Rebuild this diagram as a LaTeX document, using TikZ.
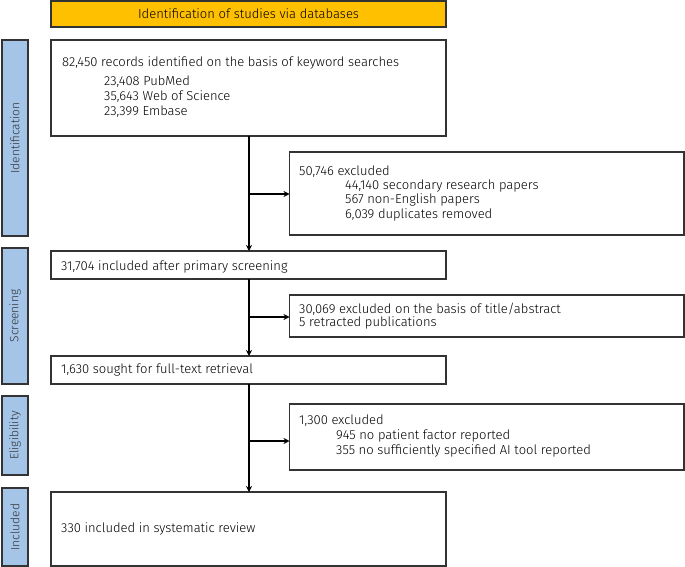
\documentclass[tikz,border=0pt]{standalone}
\usepackage{fontspec}
\setmainfont{Fira Sans}[UprightFont=*-Light]
\usetikzlibrary{arrows.meta}
\definecolor{hdr}{HTML}{FFC000}
\definecolor{side}{HTML}{A4C4E8}
\definecolor{ln}{HTML}{333333}
\begin{document}
\begin{tikzpicture}[x=1pt,y=-1pt,
  box/.style={draw=ln,line width=1.2pt,fill=white},
  sb/.style={draw=ln,line width=1.2pt,fill=side},
  sl/.style={rotate=90,text=ln,font=\fontsize{12}{14}\selectfont},
  t/.style={anchor=west,inner sep=0,font=\fontsize{13}{15}\selectfont},
  arr/.style={line width=1.4pt,-{Stealth[length=6pt,width=6pt]}}]
\useasboundingbox (0,0) rectangle (685,567);
\fill[hdr,draw=ln,line width=1.2pt] (51,1) rectangle (446,27);
\node[t,anchor=center] (hdr) at (248.5,14) {Identification of studies via databases};
% side bars
\draw[sb] (2,40) rectangle (28,236); \node[sl] (s1) at (15,138) {Identification};
\draw[sb] (2,248) rectangle (28,384); \node[sl] (s2) at (15,316) {Screening};
\draw[sb] (2,396) rectangle (28,475); \node[sl] (s3) at (15,435.5) {Eligibility};
\draw[sb] (2,488) rectangle (28,566); \node[sl] (s4) at (15,527) {Included};
% main boxes
\draw[box] (51,40) rectangle (446,136);
\coordinate (b1) at (249,136);
\node[t] (l1) at (62,63) {82,450 records identified on the basis of keyword searches};
\node[t] (l2) at (104,82) {23,408 PubMed};
\node[t] (l3) at (104,97) {35,643 Web of Science};
\node[t] (l4) at (104,112) {23,399 Embase};
\draw[box] (289.5,152) rectangle (684,235);
\node[t] (e1) at (299,172) {50,746 excluded};
\node[t] (e2) at (345,186) {44,140 secondary research papers};
\node[t] (e3) at (345,200) {567 non-English papers};
\node[t] (e4) at (345,215) {6,039 duplicates removed};
\coordinate (x1) at (289.5,194);
\draw[box] (51,251) rectangle (446,279);
\coordinate (b2t) at (249,251); \coordinate (b2b) at (249,279);
\node[t] (m2) at (61,266.5) {31,704 included after primary screening};
\draw[box] (289.5,295) rectangle (684,337);
\node[t] (f1) at (299,309) {30,069 excluded on the basis of title/abstract};
\node[t] (f2) at (299,323) {5 retracted publications};
\coordinate (x2) at (289.5,317);
\draw[box] (51,356) rectangle (446,384);
\coordinate (b3t) at (249,356); \coordinate (b3b) at (249,384);
\node[t] (m3) at (61,370) {1,630 sought for full-text retrieval};
\draw[box] (289.5,404) rectangle (684,470);
\node[t] (g1) at (299,421) {1,300 excluded};
\node[t] (g2) at (336,436) {945 no patient factor reported};
\node[t] (g3) at (336,451) {355 no sufficiently specified AI tool reported};
\coordinate (x3) at (289.5,441);
\draw[box] (51,492) rectangle (446,566);
\coordinate (b4t) at (249,492);
\node[t] (m4) at (61,529) {330 included in systematic review};
% connectors
\draw[arr] (b1) -- (b2t);
\draw[arr] (b2b) -- (b3t);
\draw[arr] (b3b) -- (b4t);
\draw[arr] (249,194) -- (x1);
\draw[arr] (249,317) -- (x2);
\draw[arr] (249,441) -- (x3);
\end{tikzpicture}
\end{document}
